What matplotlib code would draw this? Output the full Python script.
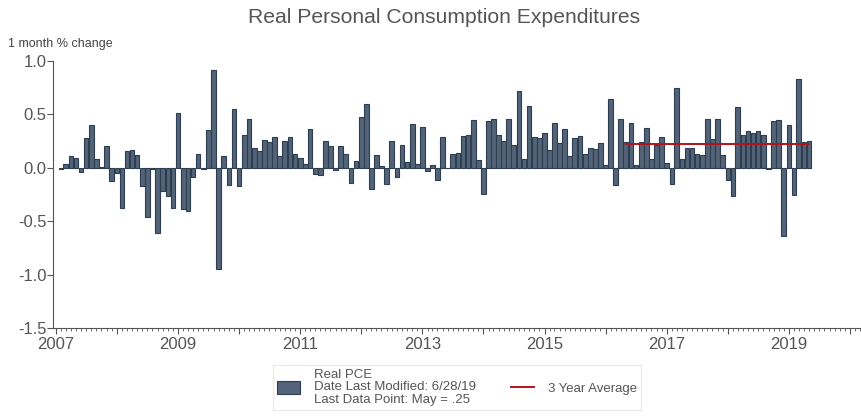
import pandas as pd
import matplotlib
matplotlib.use('Agg')
import matplotlib.pyplot as plt
import matplotlib.dates as mdates
from matplotlib.ticker import FuncFormatter, FormatStrFormatter

plt.rcParams['font.family'] = ['Liberation Sans', 'DejaVu Sans']

# monthly % change in real PCE, Feb 2007 .. May 2019
pce_change = [
    -0.01, 0.04, 0.11, 0.09, -0.04, 0.28, 0.40, 0.08, 0.01, 0.20, -0.12,
    -0.05, -0.38, 0.155, 0.17, 0.12, -0.17, -0.46, -0.01, -0.61, -0.22, -0.26, -0.38,
    0.51, -0.39, -0.40, -0.09, 0.13, -0.01, 0.35, 0.92, -0.95, 0.11, -0.16, 0.55,
    -0.17, 0.31, 0.46, 0.19, 0.16, 0.26, 0.24, 0.29, 0.11, 0.25, 0.29, 0.13,
    0.09, 0.04, 0.36, -0.06, -0.07, 0.25, 0.20, -0.02, 0.20, 0.13, -0.14, 0.06,
    0.48, 0.60, -0.20, 0.12, 0.015, -0.15, 0.25, -0.09, 0.21, 0.05, 0.41, 0.04,
    0.38, -0.03, 0.025, -0.115, 0.29, -0.005, 0.13, 0.14, 0.30, 0.31, 0.45, 0.07,
    -0.245, 0.44, 0.46, 0.31, 0.25, 0.46, 0.21, 0.72, 0.08, 0.58, 0.29, 0.28,
    0.33, 0.17, 0.42, 0.23, 0.36, 0.115, 0.28, 0.30, 0.13, 0.19, 0.175, 0.23,
    0.025, 0.64, -0.16, 0.455, 0.24, 0.42, 0.025, 0.24, 0.37, 0.08, 0.21, 0.29,
    0.045, -0.15, 0.745, 0.08, 0.19, 0.19, 0.13, 0.12, 0.46, 0.27, 0.46, 0.12,
    -0.115, -0.265, 0.57, 0.31, 0.34, 0.325, 0.34, 0.31, -0.01, 0.44, 0.445, -0.64,
    0.40, -0.255, 0.83, 0.24, 0.25,
]
first_month = '2007-02-01'

avg_start = '2016-05-01'
avg_end = '2019-05-01'
avg_value = 0.22

y_ticks = [-1.5, -1.0, -0.5, 0.0, 0.5, 1.0]

title = 'Real Personal Consumption Expenditures'
ylabel = '1 month % change'
bar_label = 'Real PCE\nDate Last Modified: 6/28/19\nLast Data Point: May = .25'
avg_label = '3 Year Average'

grey = '#555555'

dates = pd.date_range(first_month, periods=len(pce_change), freq='MS')

fig = plt.figure(figsize=(8.62, 4.16), dpi=100)
ax = fig.add_axes([53.3 / 862, 88 / 416, (860 - 53.3) / 862, (328 - 61) / 416])

bars = ax.bar(dates, pce_change, width=28, color='#536478', edgecolor='#2c3e50',
              linewidth=0.8, label=bar_label)
avg_line, = ax.plot([pd.Timestamp(avg_start), pd.Timestamp(avg_end)], [avg_value, avg_value],
                    color='#b5121b', linewidth=1.4, label=avg_label)

ax.set_ylim(-1.5, 1.0)
ax.set_yticks(y_ticks)
ax.yaxis.set_major_formatter(FormatStrFormatter('%.1f'))
ax.set_xlim(pd.Timestamp('2006-12-17'), pd.Timestamp('2020-03-01'))

ax.xaxis.set_major_locator(mdates.YearLocator(1))
ax.xaxis.set_minor_locator(mdates.MonthLocator())
ax.xaxis.set_major_formatter(FuncFormatter(
    lambda v, pos: str(mdates.num2date(v).year) if mdates.num2date(v).year % 2 == 1 else ''))

for side in ['top', 'right']:
    ax.spines[side].set_visible(False)
for side in ['left', 'bottom']:
    ax.spines[side].set_color(grey)
    ax.spines[side].set_linewidth(0.8)

ax.tick_params(axis='both', which='major', direction='out', length=4, width=0.8,
               color=grey, labelcolor=grey, labelsize=12, pad=1)
ax.tick_params(axis='x', which='major', pad=2.5)
ax.tick_params(axis='x', which='minor', direction='out', length=2, width=0.6, color=grey)

fig.text(0.515, 0.957, title, ha='center', va='center', fontsize=15.2, color=grey)
fig.text(0.009, 0.895, ylabel, ha='left', va='center', fontsize=9, color='#444444')

leg = ax.legend(handles=[bars, avg_line], labels=[bar_label, avg_label], ncol=2,
                loc='upper left', bbox_to_anchor=(273 / 862, 1 - 365 / 416),
                bbox_transform=fig.transFigure, fontsize=9.5, frameon=True, fancybox=False,
                edgecolor='#e3e3e3', borderpad=0.3, handlelength=1.75, handleheight=1.06,
                handletextpad=1.06, columnspacing=2.65, borderaxespad=0)
leg.get_frame().set_linewidth(0.8)
for t in leg.get_texts():
    t.set_color(grey)
    t.set_linespacing(1.05)

fig.savefig('out.png', dpi=100)
